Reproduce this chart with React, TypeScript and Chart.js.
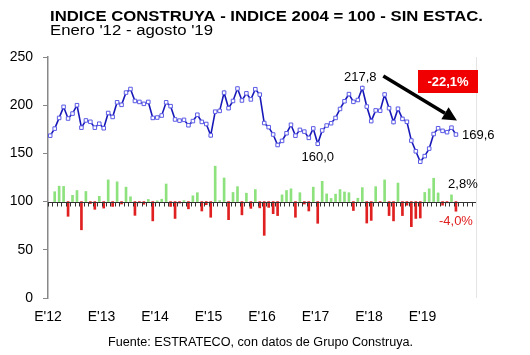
import React, { useEffect, useRef } from "react";
import { Chart, registerables } from "chart.js";

Chart.register(...registerables);

// Monthly index, Jan 2012 .. Aug 2019
const indexValues: number[] = [
  168.4, 175.7, 186.8, 198.3, 186.2, 191.3, 200.0, 176.7, 184.2, 182.8, 176.7, 180.8,
  176.1, 191.9, 187.8, 203.0, 200.4, 213.1, 216.8, 204.4, 203.4, 201.4, 203.4, 186.8,
  187.2, 189.3, 203.0, 199.0, 185.2, 184.0, 184.8, 179.2, 183.5, 190.1, 182.7, 180.5,
  168.7, 193.3, 194.1, 213.0, 196.9, 204.4, 217.3, 204.9, 212.3, 206.0, 216.6, 211.0,
  181.5, 177.2, 169.6, 158.7, 163.0, 170.9, 179.7, 168.4, 174.4, 172.6, 166.1, 175.9,
  160.0, 173.8, 178.9, 181.3, 186.8, 196.1, 204.1, 211.5, 203.5, 205.4, 217.8, 198.6,
  183.5, 194.6, 194.3, 211.1, 196.9, 182.5, 196.3, 185.8, 182.8, 163.3, 152.2, 141.4,
  147.2, 155.0, 170.1, 176.1, 173.4, 172.0, 176.7, 169.6,
];

// Monthly % change (bars)
const monthlyChange: (number | null)[] = [
  null, 4.1, 6.4, 6.3, -6.1, 2.6, 4.6, -11.7, 4.2, -0.8, -3.2, 2.2,
  -2.7, 9.0, -2.0, 8.2, -1.0, 6.0, 2.0, -5.7, -0.5, -1.1, 0.9, -8.0,
  0.3, 1.0, 7.3, -2.0, -7.0, -0.6, 0.4, -3.0, 2.4, 3.7, -3.9, -1.3,
  -6.5, 14.7, 0.4, 9.8, -7.5, 3.8, 6.2, -5.5, 3.5, -2.8, 5.0, -2.6,
  -14.0, -2.4, -5.0, -5.8, 2.8, 4.6, 5.3, -6.5, 3.7, -1.0, -3.9, 6.0,
  -9.0, 8.4, 3.2, 1.3, 3.1, 5.0, 4.0, 3.7, -3.7, 1.4, 5.8, -8.9,
  -7.8, 6.2, -0.2, 9.0, -5.8, -8.0, 7.7, -5.8, -1.5, -10.4, -7.0, -6.8,
  3.8, 5.3, 9.7, 3.6, -1.5, -0.5, 2.8, -4.0,
];

const yearLabels: string[] = ["E'12", "E'13", "E'14", "E'15", "E'16", "E'17", "E'18", "E'19"];
const yTicks: number[] = [0, 50, 100, 150, 200, 250];

const TITLE = "INDICE CONSTRUYA - INDICE 2004 = 100 - SIN ESTAC.";
const SUBTITLE = "Enero '12 - agosto '19";
const SOURCE = "Fuente: ESTRATECO, con datos de Grupo Construya.";
const PEAK_INDEX = 70;
const LOW_INDEX = 60;
const DROP_LABEL = "-22,1%";
const LAST_UP_LABEL = "2,8%";
const LAST_DOWN_LABEL = "-4,0%";
const BASE = 100;
const TOTAL_MONTHS = 96;

const FONT = '"Liberation Sans", Arial, sans-serif';

const fmt = (v: number) => v.toFixed(1).replace(".", ",");

// draws text stretched horizontally to a target width
function stretchText(ctx: any, text: string, x: number, y: number, width: number, align: string) {
  const w = ctx.measureText(text).width;
  const s = width / w;
  ctx.save();
  let left = x;
  if (align === "center") left = x - width / 2;
  else if (align === "right") left = x - width;
  ctx.translate(left, y);
  ctx.scale(s, 1);
  ctx.textAlign = "left";
  ctx.fillText(text, 0, 0);
  ctx.restore();
}

const annotPlugin = {
  id: "annot",
  afterDatasetsDraw(chart: any) {
    const { ctx, chartArea, scales } = chart;
    const x = scales.x;
    const y = scales.y;
    const yb = Math.round(y.getPixelForValue(BASE)) + 0.5;
    ctx.save();
    ctx.strokeStyle = "#333";
    ctx.lineWidth = 1;
    ctx.beginPath();
    ctx.moveTo(chartArea.left, yb);
    ctx.lineTo(chartArea.right, yb);
    for (let i = 0; i <= TOTAL_MONTHS; i++) {
      const px = Math.round(x.getPixelForValue(i)) + 0.5;
      ctx.moveTo(px, yb);
      ctx.lineTo(px, yb + 4);
    }
    ctx.stroke();
    ctx.restore();
  },
  afterDraw(chart: any) {
    const { ctx, chartArea, scales } = chart;
    const x = scales.x;
    const y = scales.y;
    ctx.save();
    // faint right border
    ctx.strokeStyle = "#e4e4e4";
    ctx.lineWidth = 1;
    ctx.beginPath();
    ctx.moveTo(Math.round(chartArea.right) + 0.5, chartArea.top);
    ctx.lineTo(Math.round(chartArea.right) + 0.5, chartArea.bottom);
    ctx.stroke();

    // titles
    ctx.fillStyle = "#000";
    ctx.textBaseline = "alphabetic";
    ctx.font = `bold 14px ${FONT}`;
    stretchText(ctx, TITLE, 50, 21, 433, "left");
    ctx.font = `14px ${FONT}`;
    stretchText(ctx, SUBTITLE, 50, 35, 163, "left");
    ctx.font = `12px ${FONT}`;
    stretchText(ctx, SOURCE, 108, 346, 305, "left");

    const last = indexValues.length - 1;
    const px = (i: number) => x.getPixelForValue(i + 0.5);
    const py = (i: number) => y.getPixelForValue(indexValues[i]);

    ctx.font = `13px ${FONT}`;
    ctx.textBaseline = "middle";
    ctx.textAlign = "center";
    // peak label
    ctx.fillText(fmt(indexValues[PEAK_INDEX]), px(PEAK_INDEX) - 2, py(PEAK_INDEX) - 11);
    // low label
    ctx.fillText(fmt(indexValues[LOW_INDEX]), px(LOW_INDEX), py(LOW_INDEX) + 14);
    // last label
    ctx.textAlign = "left";
    ctx.fillText(fmt(indexValues[last]), px(last) + 6, py(last) + 1);

    // arrow
    const x0 = px(PEAK_INDEX) + 21;
    const y0 = py(PEAK_INDEX) - 12;
    const x1 = px(last) + 1;
    const y1 = py(last) - 14;
    const ang = Math.atan2(y1 - y0, x1 - x0);
    const headLen = 14;
    const bx = x1 - headLen * Math.cos(ang);
    const by = y1 - headLen * Math.sin(ang);
    ctx.strokeStyle = "#000";
    ctx.lineWidth = 3.5;
    ctx.beginPath();
    ctx.moveTo(x0, y0);
    ctx.lineTo(bx, by);
    ctx.stroke();
    ctx.fillStyle = "#000";
    ctx.beginPath();
    ctx.moveTo(x1, y1);
    ctx.lineTo(bx + 7 * Math.sin(ang), by - 7 * Math.cos(ang));
    ctx.lineTo(bx - 7 * Math.sin(ang), by + 7 * Math.cos(ang));
    ctx.closePath();
    ctx.fill();

    // red box
    const boxL = 418, boxT = 70, boxW = 60, boxH = 23;
    ctx.fillStyle = "#f00000";
    ctx.fillRect(boxL, boxT, boxW, boxH);
    ctx.fillStyle = "#fff";
    ctx.font = `bold 13px ${FONT}`;
    ctx.textAlign = "center";
    ctx.fillText(DROP_LABEL, boxL + boxW / 2, boxT + boxH / 2 + 1);

    // last changes labels
    const yb = y.getPixelForValue(BASE);
    ctx.font = `13px ${FONT}`;
    ctx.fillStyle = "#000";
    ctx.textAlign = "center";
    ctx.fillText(LAST_UP_LABEL, px(last) + 7, yb - 17);
    ctx.fillStyle = "#e02020";
    ctx.fillText(LAST_DOWN_LABEL, px(last), yb + 20);
    ctx.restore();
  },
};

export default function App() {
  const ref = useRef<HTMLCanvasElement | null>(null);
  useEffect(() => {
    document.body.style.margin = "0";
    const canvas = ref.current;
    if (!canvas) return;
    const lineData = indexValues.map((v, i) => ({ x: i + 0.5, y: v }));
    const barData = monthlyChange
      .map((v, i) => (v === null ? null : { x: i + 0.5, y: v }))
      .filter((d) => d !== null) as { x: number; y: number }[];
    const barColors = barData.map((d) => (d.y >= 0 ? "#8ee27e" : "#e02020"));

    const chart = new Chart(canvas, {
      type: "line",
      data: {
        datasets: [
          {
            type: "line",
            data: lineData,
            borderColor: "#1818b8",
            borderWidth: 1.6,
            pointStyle: "rect",
            pointRadius: 2.5,
            pointBorderWidth: 1,
            pointBackgroundColor: "#ffffff",
            pointBorderColor: "#5a5ae6",
            tension: 0,
            order: 0,
            yAxisID: "y",
          } as any,
          {
            type: "bar",
            data: barData,
            backgroundColor: barColors,
            barThickness: 2,
            order: 1,
            yAxisID: "y2",
          } as any,
        ],
      },
      options: {
        responsive: false,
        animation: false,
        devicePixelRatio: 1,
        layout: { padding: { top: 57, right: 54, bottom: 30, left: 0 } },
        plugins: { legend: { display: false }, tooltip: { enabled: false } },
        scales: {
          x: {
            type: "linear",
            min: 0,
            max: TOTAL_MONTHS,
            offset: false,
            grid: { display: false, drawTicks: false, offset: false },
            border: { display: false },
            afterBuildTicks: (scale: any) => {
              scale.ticks = yearLabels.map((_, k) => ({ value: k * 12 }));
            },
            afterFit: (scale: any) => {
              scale.height = 27;
            },
            ticks: {
              autoSkip: false,
              maxRotation: 0,
              padding: 11,
              color: "#000",
              font: { family: FONT, size: 14 },
              callback: (v: any) => yearLabels[Math.round(Number(v) / 12)] ?? "",
            },
          },
          y: {
            min: 0,
            max: 250,
            offset: false,
            afterBuildTicks: (scale: any) => {
              scale.ticks = yTicks.map((v) => ({ value: v }));
            },
            afterFit: (scale: any) => {
              scale.width = 48;
            },
            grid: { drawOnChartArea: false, tickLength: 5, color: "#888", offset: false },
            border: { display: true, color: "#888", width: 1.5 },
            ticks: {
              padding: 10,
              color: "#000",
              font: { family: FONT, size: 14 },
            },
          },
          y2: {
            display: false,
            min: -40,
            max: 60,
          },
        },
      } as any,
      plugins: [annotPlugin],
    });
    return () => chart.destroy();
  }, []);

  return (
    <div style={{ position: "fixed", left: 0, top: 0, width: 530, height: 355, background: "#fff" }}>
      <canvas ref={ref} width={530} height={355} style={{ width: 530, height: 355 }} />
    </div>
  );
}
